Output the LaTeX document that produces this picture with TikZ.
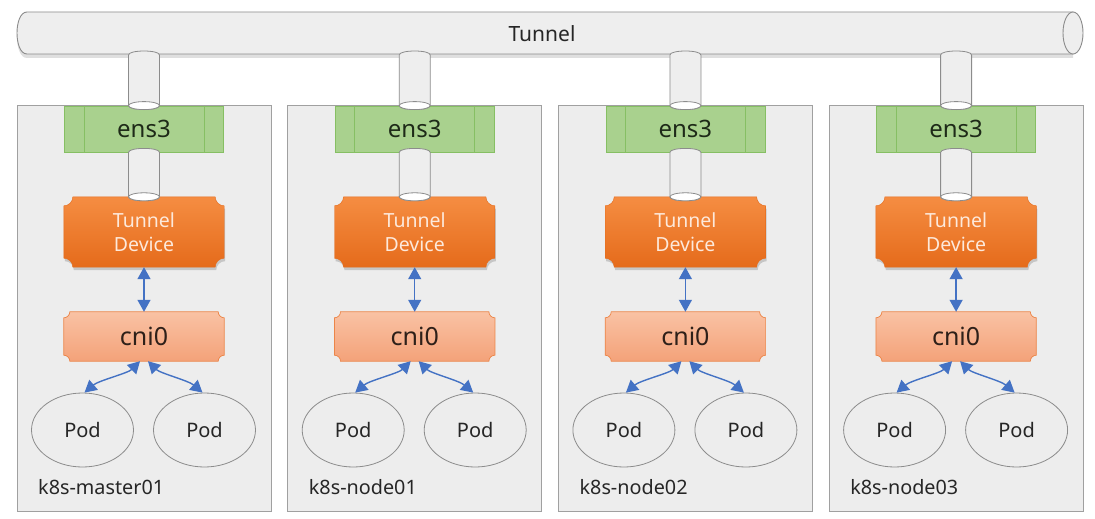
\documentclass[tikz,border=0pt]{standalone}
\usepackage{fontspec}
\setmainfont{Noto Sans}
\usetikzlibrary{arrows.meta,shadows,calc,shapes.geometric}
\pgfdeclarelayer{hosts}
\pgfdeclarelayer{shapes}
\pgfsetlayers{hosts,shapes,main}

\definecolor{hostfill}{HTML}{EDEDED}
\definecolor{hostdraw}{HTML}{A0A0A0}
\definecolor{tunfill}{HTML}{EEEEEE}
\definecolor{tundraw}{HTML}{8C8C8C}
\definecolor{ensfill}{HTML}{A9D18E}
\definecolor{ensdraw}{HTML}{86BF63}
\definecolor{enstext}{HTML}{1E2A18}
\definecolor{devtop}{HTML}{F58D42}
\definecolor{devbot}{HTML}{E56B1B}
\definecolor{devtext}{HTML}{FDE9DB}
\definecolor{cnitop}{HTML}{F9C2A4}
\definecolor{cnibot}{HTML}{F4A279}
\definecolor{cnidraw}{HTML}{EC8548}
\definecolor{cnitext}{HTML}{2E2019}
\definecolor{arrowblue}{HTML}{4472C4}
\definecolor{textgrey}{HTML}{262626}

\def\cylw{15.5pt}
\def\cylry{4pt}
\def\cylk{5.33pt}

% vertical cylinder, open face at the bottom: #1 top point, #2 bottom point
\newcommand\vcyl[2]{%
  \filldraw[fill=tunfill,draw=tundraw,line width=0.8pt] let \p1=#1, \p2=#2 in
    (\x2-\cylw,\y1) -- (\x2-\cylw,\y2)
    .. controls (\x2-\cylw,\y2-\cylk) and (\x2+\cylw,\y2-\cylk) .. (\x2+\cylw,\y2)
    -- (\x2+\cylw,\y1)
    .. controls (\x2+\cylw,\y1+\cylk) and (\x2-\cylw,\y1+\cylk) .. cycle;
  \filldraw[fill=white,draw=tundraw,line width=0.8pt] let \p2=#2 in
    (\x2,\y2) ellipse [x radius=\cylw, y radius=\cylry];
}

% plaque outline (concave corners) around node #1, radius #2, style #3
\newcommand\plaque[3]{%
  \path[#3] let \p1=(#1.north west), \p2=(#1.south east) in
    (\x1+#2,\y1) -- (\x2-#2,\y1)
    .. controls (\x2-#2,\y1-0.552*#2) and (\x2-0.552*#2,\y1-#2) .. (\x2,\y1-#2)
    -- (\x2,\y2+#2)
    .. controls (\x2-0.552*#2,\y2+#2) and (\x2-#2,\y2+0.552*#2) .. (\x2-#2,\y2)
    -- (\x1+#2,\y2)
    .. controls (\x1+#2,\y2+0.552*#2) and (\x1+0.552*#2,\y2+#2) .. (\x1,\y2+#2)
    -- (\x1,\y1-#2)
    .. controls (\x1+0.552*#2,\y1-#2) and (\x1+#2,\y1-0.552*#2) .. cycle;
}

\tikzset{
  hostbox/.style={draw=hostdraw,fill=hostfill,line width=0.9pt,minimum width=254pt,minimum height=406pt,inner sep=0pt},
  ensbox/.style={draw=ensdraw,fill=ensfill,line width=0.8pt,minimum width=159pt,minimum height=46pt,inner sep=0pt,text=enstext,font=\fontsize{24}{28}\selectfont},
  devbox/.style={minimum width=160pt,minimum height=70pt,inner sep=0pt,align=center,text=devtext,font=\fontsize{19.5}{24.5}\selectfont},
  cnibox/.style={minimum width=160pt,minimum height=49pt,inner sep=0pt,text=cnitext,font=\fontsize{25}{28}\selectfont},
  devshape/.style={top color=devtop,bottom color=devbot,draw=devbot,line width=0.4pt,
    drop shadow={opacity=0.35,shadow xshift=1pt,shadow yshift=-3pt}},
  cnishape/.style={top color=cnitop,bottom color=cnibot,draw=cnidraw,line width=0.7pt},
  pod/.style={ellipse,draw=tundraw,fill=hostfill,line width=0.8pt,minimum width=102pt,minimum height=74pt,inner sep=0pt,text=textgrey,font=\fontsize{20}{24}\selectfont},
  hostlabel/.style={anchor=west,inner sep=0pt,text=textgrey,font=\fontsize{19.8}{24}\selectfont},
  biarrow/.style={{Triangle[length=12pt,width=13pt]}-{Triangle[length=12pt,width=13pt]},draw=arrowblue,line width=1.4pt},
}

\begin{document}
\begin{tikzpicture}[x=1pt,y=-1pt]
\useasboundingbox (0,0) rectangle (1095,519);

\begin{pgfonlayer}{hosts}
  \fill[white] (0,0) rectangle (1095,519);
  % the tunnel pipe
  \filldraw[fill=tunfill,draw=tundraw,line width=0.9pt,
    drop shadow={opacity=0.25,shadow xshift=0pt,shadow yshift=-4pt}]
    (1073,12) -- (27,12) .. controls (13.67,12) and (13.67,54) .. (27,54) -- (1073,54) -- cycle;
  \filldraw[fill=tunfill,draw=tundraw,line width=0.9pt] (1073,33) ellipse [x radius=10pt, y radius=21pt];
\end{pgfonlayer}
\node[text=textgrey,font=\fontsize{21}{25}\selectfont,inner sep=0pt] (tunnel) at (542,34) {Tunnel};

\foreach \i/\c/\lab in {1/144/k8s-master01, 2/414.7/k8s-node01, 3/685.4/k8s-node02, 4/956.1/k8s-node03}{
  \begin{pgfonlayer}{hosts}
    \node[hostbox] (host-\i) at (\c,308) {};
  \end{pgfonlayer}
  \coordinate (tb-\i) at (\c,55);
  % ens3
  \node[ensbox] (ens3-\i) at (\c,129) {ens3};
  \draw[ensdraw,line width=0.8pt] ([xshift=20pt]ens3-\i.north west) -- ([xshift=20pt]ens3-\i.south west);
  \draw[ensdraw,line width=0.8pt] ([xshift=-20pt]ens3-\i.north east) -- ([xshift=-20pt]ens3-\i.south east);
  % tunnel device
  \node[devbox] (dev-\i) at (\c,232) {Tunnel\\Device};
  % cni0
  \node[cnibox] (cni-\i) at (\c,336.5) {cni0};
  \begin{pgfonlayer}{shapes}
    \plaque{dev-\i}{9pt}{devshape}
    \plaque{cni-\i}{6pt}{cnishape}
  \end{pgfonlayer}
  % cylinders
  \vcyl{(tb-\i)}{(ens3-\i.north)}
  \vcyl{(ens3-\i.south)}{(dev-\i.north)}
  % pods
  \node[pod] (podL-\i) at (\c-61.5,430) {Pod};
  \node[pod] (podR-\i) at (\c+60.5,430) {Pod};
  % arrows
  \draw[biarrow] (dev-\i.south) -- (cni-\i.north);
  \draw[biarrow] ([xshift=-4pt]cni-\i.south) .. controls +(-12,12) and +(14,-12) .. ([xshift=2pt]podL-\i.north);
  \draw[biarrow] ([xshift=4pt]cni-\i.south) .. controls +(12,12) and +(-14,-12) .. ([xshift=-2pt]podR-\i.north);
  % host name
  \node[hostlabel] (lab-\i) at (\c-106,487) {\lab};
}
\end{tikzpicture}
\end{document}
